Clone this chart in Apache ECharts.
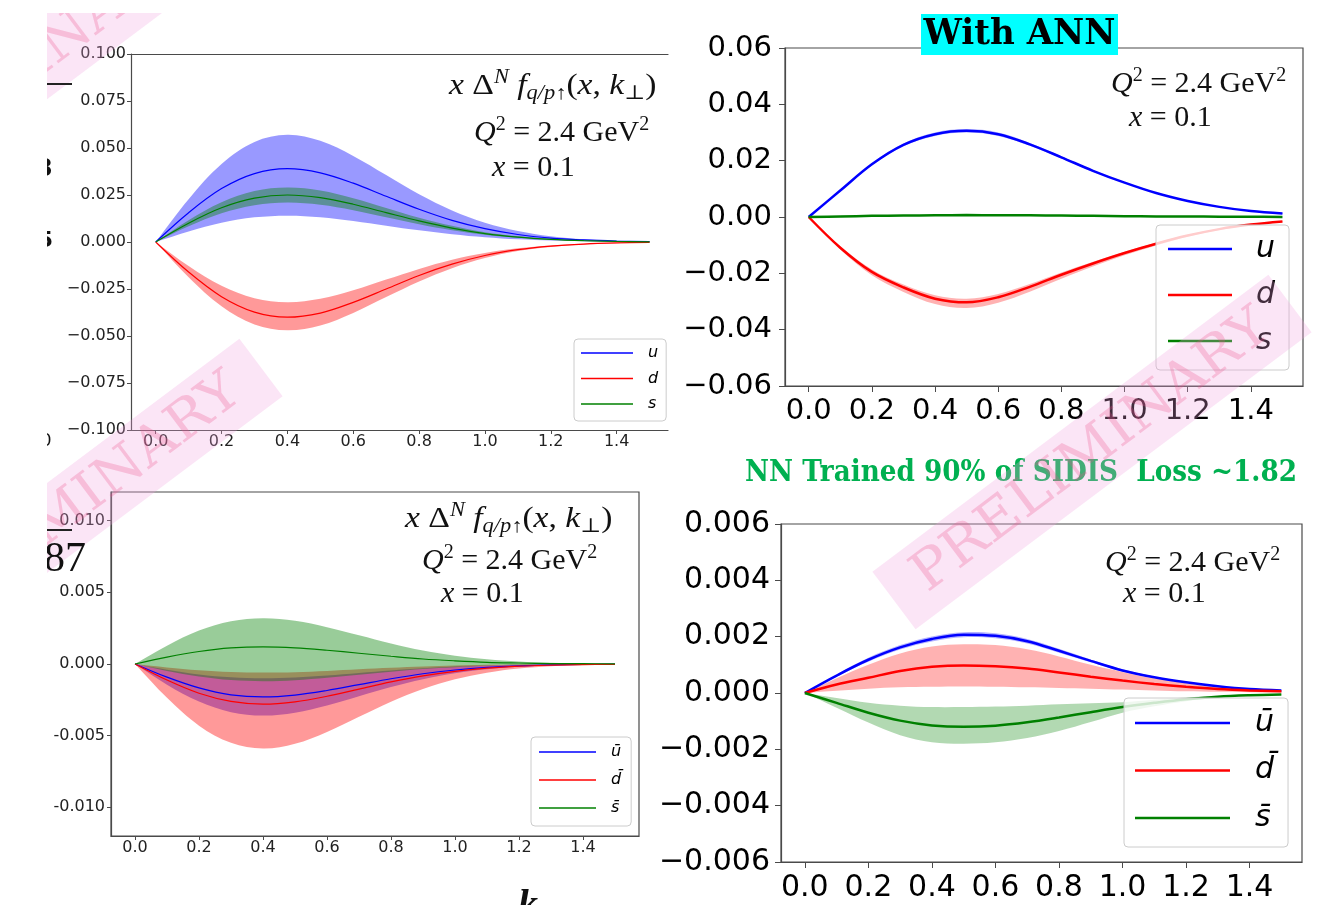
<!DOCTYPE html>
<html>
<head>
<meta charset="utf-8">
<script src="https://cdn.jsdelivr.net/npm/echarts@6/dist/echarts.min.js"></script>
<style>
  html, body { margin: 0; padding: 0; background: #ffffff; }
  #chart { width: 1338px; height: 905px; }
</style>
</head>
<body>
<div id="chart"></div>
<script>
// Transverse momentum k⊥ grid (GeV)
const K = [0, 0.1, 0.2, 0.3, 0.4, 0.5, 0.6, 0.7, 0.8, 0.9, 1.0, 1.1, 1.2, 1.3, 1.4, 1.5];

// Panel A: quark Sivers functions, reference fit
const A_U    = [0, 0.0156, 0.0284, 0.0364, 0.0390, 0.0368, 0.0313, 0.0243, 0.0174, 0.0115, 0.0071, 0.0040, 0.0021, 0.0011, 0.0005, 0.0002];
const A_U_HI = [0, 0.0228, 0.0415, 0.0532, 0.0570, 0.0538, 0.0458, 0.0356, 0.0254, 0.0168, 0.0103, 0.0059, 0.0031, 0.0015, 0.0007, 0.0003];
const A_U_LO = [0, 0.0056, 0.0102, 0.0131, 0.0140, 0.0132, 0.0112, 0.0087, 0.0062, 0.0041, 0.0025, 0.0014, 0.0008, 0.0004, 0.0002, 0.0001];
const A_D    = [0, -0.0160, -0.0291, -0.0373, -0.0400, -0.0378, -0.0321, -0.0250, -0.0178, -0.0118, -0.0072, -0.0041, -0.0022, -0.0011, -0.0005, -0.0002];
const A_D_HI = [0, -0.0128, -0.0233, -0.0299, -0.0320, -0.0302, -0.0257, -0.0200, -0.0143, -0.0094, -0.0058, -0.0033, -0.0018, -0.0009, -0.0004, -0.0002];
const A_D_LO = [0, -0.0188, -0.0342, -0.0439, -0.0470, -0.0444, -0.0377, -0.0293, -0.0210, -0.0139, -0.0085, -0.0048, -0.0026, -0.0013, -0.0006, -0.0003];
const A_S    = [0, 0.0100, 0.0182, 0.0233, 0.0250, 0.0236, 0.0201, 0.0156, 0.0112, 0.0074, 0.0045, 0.0026, 0.0014, 0.0007, 0.0003, 0.0001];
const A_S_HI = [0, 0.0116, 0.0211, 0.0271, 0.0290, 0.0274, 0.0233, 0.0181, 0.0129, 0.0086, 0.0052, 0.0030, 0.0016, 0.0008, 0.0004, 0.0002];
const A_S_LO = [0, 0.0084, 0.0153, 0.0196, 0.0210, 0.0198, 0.0169, 0.0131, 0.0094, 0.0062, 0.0038, 0.0022, 0.0012, 0.0006, 0.0003, 0.0001];

// Panel B: quark Sivers functions with ANN
const B_U    = [0, 0.0094, 0.0187, 0.0256, 0.0294, 0.0306, 0.0294, 0.0258, 0.0212, 0.0164, 0.0122, 0.0085, 0.0057, 0.0036, 0.0021, 0.0012];
const B_U_HI = [0, 0.0097, 0.0191, 0.0261, 0.0300, 0.0312, 0.0300, 0.0263, 0.0216, 0.0167, 0.0124, 0.0087, 0.0058, 0.0037, 0.0022, 0.0013];
const B_U_LO = [0, 0.0091, 0.0183, 0.0251, 0.0288, 0.0300, 0.0288, 0.0253, 0.0208, 0.0161, 0.0120, 0.0083, 0.0056, 0.0035, 0.0020, 0.0011];
const B_D    = [0, -0.0109, -0.0195, -0.0250, -0.0290, -0.0303, -0.0285, -0.0248, -0.0205, -0.0165, -0.0128, -0.0095, -0.0066, -0.0043, -0.0027, -0.0016];
const B_D_HI = [0, -0.0104, -0.0186, -0.0240, -0.0278, -0.0290, -0.0273, -0.0238, -0.0197, -0.0159, -0.0123, -0.0091, -0.0063, -0.0041, -0.0026, -0.0015];
const B_D_LO = [0, -0.0115, -0.0207, -0.0266, -0.0309, -0.0323, -0.0304, -0.0265, -0.0219, -0.0176, -0.0136, -0.0101, -0.0070, -0.0046, -0.0029, -0.0017];
const B_S    = [0, 0.0002, 0.0004, 0.0005, 0.0006, 0.0007, 0.0006, 0.0006, 0.0005, 0.0004, 0.0003, 0.0002, 0.0002, 0.0001, 0.0001, 0.0000];
const B_S_HI = [0, 0.0003, 0.0005, 0.0006, 0.0007, 0.0008, 0.0007, 0.0007, 0.0006, 0.0005, 0.0004, 0.0003, 0.0002, 0.0001, 0.0001, 0.0000];
const B_S_LO = [0, 0.0001, 0.0003, 0.0004, 0.0005, 0.0006, 0.0005, 0.0005, 0.0004, 0.0003, 0.0002, 0.0001, 0.0001, 0.0001, 0.0000, 0.0000];

// Panel C: antiquark Sivers functions, reference fit
const C_U    = [0, -0.00092, -0.00167, -0.00215, -0.00230, -0.00217, -0.00185, -0.00144, -0.00103, -0.00068, -0.00042, -0.00024, -0.00013, -0.00006, -0.00003, -0.00001];
const C_U_HI = [0, -0.00040, -0.00073, -0.00093, -0.00100, -0.00094, -0.00080, -0.00062, -0.00045, -0.00030, -0.00018, -0.00010, -0.00006, -0.00003, -0.00001, 0];
const C_U_LO = [0, -0.00144, -0.00262, -0.00336, -0.00360, -0.00340, -0.00289, -0.00225, -0.00161, -0.00106, -0.00065, -0.00037, -0.00020, -0.00010, -0.00005, -0.00002];
const C_D    = [0, -0.00112, -0.00204, -0.00261, -0.00280, -0.00264, -0.00225, -0.00175, -0.00125, -0.00083, -0.00051, -0.00029, -0.00015, -0.00008, -0.00004, -0.00002];
const C_D_HI = [0, -0.00024, -0.00044, -0.00056, -0.00060, -0.00057, -0.00048, -0.00037, -0.00027, -0.00018, -0.00011, -0.00006, -0.00003, -0.00002, -0.00001, 0];
const C_D_LO = [0, -0.00236, -0.00430, -0.00550, -0.00590, -0.00557, -0.00474, -0.00368, -0.00263, -0.00174, -0.00107, -0.00061, -0.00032, -0.00016, -0.00007, -0.00003];
const C_S    = [0, 0.00048, 0.00087, 0.00112, 0.00120, 0.00113, 0.00096, 0.00075, 0.00054, 0.00035, 0.00022, 0.00012, 0.00007, 0.00003, 0.00002, 0.00001];
const C_S_HI = [0, 0.00128, 0.00233, 0.00299, 0.00320, 0.00302, 0.00257, 0.00200, 0.00143, 0.00094, 0.00058, 0.00033, 0.00018, 0.00009, 0.00004, 0.00002];
const C_S_LO = [0, -0.00048, -0.00087, -0.00112, -0.00120, -0.00113, -0.00096, -0.00075, -0.00054, -0.00035, -0.00022, -0.00012, -0.00007, -0.00003, -0.00002, -0.00001];

// Panel D: antiquark Sivers functions with ANN
const D_U    = [0, 0.00062, 0.00118, 0.00162, 0.00192, 0.00207, 0.00203, 0.00184, 0.00150, 0.00114, 0.00080, 0.00056, 0.00038, 0.00024, 0.00014, 0.00009];
const D_U_HI = [0, 0.00066, 0.00125, 0.00170, 0.00201, 0.00216, 0.00212, 0.00192, 0.00157, 0.00119, 0.00084, 0.00059, 0.00040, 0.00025, 0.00015, 0.00009];
const D_U_LO = [0, 0.00058, 0.00111, 0.00154, 0.00183, 0.00198, 0.00194, 0.00176, 0.00143, 0.00109, 0.00076, 0.00053, 0.00036, 0.00023, 0.00013, 0.00008];
const D_D    = [0, 0.00030, 0.00054, 0.00078, 0.00093, 0.00098, 0.00095, 0.00087, 0.00073, 0.00058, 0.00044, 0.00032, 0.00022, 0.00014, 0.00009, 0.00006];
const D_D_HI = [0, 0.00052, 0.00100, 0.00140, 0.00165, 0.00173, 0.00170, 0.00155, 0.00130, 0.00100, 0.00075, 0.00052, 0.00035, 0.00022, 0.00013, 0.00008];
const D_D_LO = [0, 0.00008, 0.00015, 0.00020, 0.00022, 0.00023, 0.00022, 0.00020, 0.00018, 0.00015, 0.00012, 0.00009, 0.00006, 0.00004, 0.00003, 0.00002];
const D_S    = [0, -0.00035, -0.00070, -0.00098, -0.00115, -0.00120, -0.00116, -0.00104, -0.00087, -0.00068, -0.00050, -0.00035, -0.00022, -0.00013, -0.00008, -0.00005];
const D_S_HI = [0, -0.00018, -0.00035, -0.00045, -0.00050, -0.00050, -0.00048, -0.00045, -0.00040, -0.00036, -0.00033, -0.00024, -0.00016, -0.00010, -0.00006, -0.00004];
const D_S_LO = [0, -0.00052, -0.00105, -0.00150, -0.00175, -0.00180, -0.00175, -0.00160, -0.00135, -0.00103, -0.00070, -0.00047, -0.00029, -0.00017, -0.00010, -0.00006];

// Tick positions
const X_TICKS   = [0, 0.2, 0.4, 0.6, 0.8, 1.0, 1.2, 1.4];
const A_Y_TICKS = [-0.1, -0.075, -0.05, -0.025, 0, 0.025, 0.05, 0.075, 0.1];
const B_Y_TICKS = [-0.06, -0.04, -0.02, 0, 0.02, 0.04, 0.06];
const C_Y_TICKS = [-0.01, -0.005, 0, 0.005, 0.01];
const D_Y_TICKS = [-0.006, -0.004, -0.002, 0, 0.002, 0.004, 0.006];

// Legend texts
const LEGEND_TEXT = {
  'A-u': 'u', 'A-d': 'd', 'A-s': 's',
  'B-u': 'u', 'B-d': 'd', 'B-s': 's',
  'C-u': 'ū', 'C-d': 'd\u0304', 'C-s': 's\u0304',
  'D-u': 'ū', 'D-d': 'd\u0304', 'D-s': 's\u0304'
};

const BLUE = '#0000ff', RED = '#ff0000', GREEN = '#008000';
const SPINE = '#4a4a4a';
const SANS = '"DejaVu Sans", sans-serif';
const SERIF = '"Liberation Serif", "DejaVu Serif", serif';
const SLAB = '"DejaVu Serif", serif';

const PANELS = [
  {
    grid: { left: 131, top: 54, width: 537, height: 376 }, box: false,
    xMin: -0.075, xMax: 1.556, yMin: -0.1, yMax: 0.1, yTicks: A_Y_TICKS, digits: 3, minus: '\u2212',
    font: 16, labelColor: '#222', tickLen: 4, xMargin: 4, yMargin: 5, lineWidth: 1.2, alpha: 0.4,
    curves: [['A-u', BLUE, A_U, A_U_LO, A_U_HI], ['A-d', RED, A_D, A_D_LO, A_D_HI], ['A-s', GREEN, A_S, A_S_LO, A_S_HI]],
    legend: { left: 574, top: 339, padding: [4, 8, 7, 7], itemWidth: 52, iconH: 1.5, gap: 5.5, lineHeight: 20, textPad: 10, font: 16 }
  },
  {
    grid: { left: 785, top: 48, width: 518, height: 338 }, box: true,
    xMin: -0.075, xMax: 1.565, yMin: -0.06, yMax: 0.06, yTicks: B_Y_TICKS, digits: 2, minus: '\u2212',
    font: 29, labelColor: '#000', tickLen: 6, xMargin: 11, yMargin: 13, lineWidth: 2.5, alpha: 0.3,
    curves: [['B-u', BLUE, B_U, B_U_LO, B_U_HI], ['B-d', RED, B_D, B_D_LO, B_D_HI], ['B-s', GREEN, B_S, B_S_LO, B_S_HI]],
    legend: { left: 1156, top: 225, padding: [6, 14, 11, 12], itemWidth: 64, iconH: 2.5, gap: 10, lineHeight: 36, textPad: 19, font: 30 }
  },
  {
    grid: { left: 111, top: 492, width: 528, height: 344 }, box: true,
    xMin: -0.075, xMax: 1.575, yMin: -0.012, yMax: 0.012, yTicks: C_Y_TICKS, digits: 3, minus: '-',
    font: 16, labelColor: '#222', tickLen: 4, xMargin: 4, yMargin: 6, lineWidth: 1.2, alpha: 0.4,
    curves: [['C-u', BLUE, C_U, C_U_LO, C_U_HI], ['C-d', RED, C_D, C_D_LO, C_D_HI], ['C-s', GREEN, C_S, C_S_LO, C_S_HI]],
    legend: { left: 531, top: 737, padding: [5, 10, 8, 8], itemWidth: 57, iconH: 1.5, gap: 8, lineHeight: 20, textPad: 10, font: 16 }
  },
  {
    grid: { left: 781, top: 524, width: 521, height: 338 }, box: true,
    xMin: -0.075, xMax: 1.565, yMin: -0.006, yMax: 0.006, yTicks: D_Y_TICKS, digits: 3, minus: '\u2212',
    font: 30, labelColor: '#000', tickLen: 6, xMargin: 11, yMargin: 11, lineWidth: 2.5, alpha: 0.3,
    curves: [['D-u', BLUE, D_U, D_U_LO, D_U_HI], ['D-d', RED, D_D, D_D_LO, D_D_HI], ['D-s', GREEN, D_S, D_S_LO, D_S_HI]],
    legend: { left: 1124, top: 698, padding: [6, 14, 10, 11], itemWidth: 95, iconH: 2.5, gap: 9.5, lineHeight: 38, textPad: 20, font: 30 }
  }
];

// Filled band between the lower and upper bounds, drawn once as one smooth polygon
function bandRenderer(color, alpha) {
  return function (params, api) {
    if (params.dataIndexInside !== 0) return null;
    const n = params.dataInsideLength;
    const upper = [], lower = [];
    for (let i = 0; i < n; i++) {
      upper.push(api.coord([api.value(0, i), api.value(2, i)]));
      lower.push(api.coord([api.value(0, i), api.value(1, i)]));
    }
    return {
      type: 'polygon',
      shape: { points: upper.concat(lower.reverse()), smooth: 0.35 },
      style: { fill: color, opacity: alpha }
    };
  };
}

const option = {
  animation: false,
  backgroundColor: '#ffffff',
  grid: [], xAxis: [], yAxis: [], series: [], legend: [], graphic: []
};

PANELS.forEach((p, gi) => {
  option.grid.push(Object.assign({
    show: p.box, borderColor: SPINE, borderWidth: 1.2, backgroundColor: 'transparent'
  }, p.grid));

  const xi = option.xAxis.length;
  option.xAxis.push({
    type: 'value', gridIndex: gi, min: p.xMin, max: p.xMax, position: 'bottom',
    axisLine: { show: true, onZero: false, lineStyle: { color: SPINE, width: 1.2 } },
    axisTick: { show: true, inside: false, length: p.tickLen, customValues: X_TICKS, lineStyle: { color: SPINE, width: 1 } },
    axisLabel: { customValues: X_TICKS, formatter: v => v.toFixed(1), fontFamily: SANS, fontSize: p.font, color: p.labelColor, margin: p.xMargin },
    splitLine: { show: false }
  });
  if (!p.box) {
    // top spine only (the frame is open on the right)
    option.xAxis.push({
      type: 'value', gridIndex: gi, min: p.xMin, max: p.xMax, position: 'top',
      axisLine: { show: true, onZero: false, lineStyle: { color: SPINE, width: 1.2 } },
      axisTick: { show: false }, axisLabel: { show: false }, splitLine: { show: false }
    });
  }
  const yi = option.yAxis.length;
  option.yAxis.push({
    type: 'value', gridIndex: gi, min: p.yMin, max: p.yMax,
    axisLine: { show: true, onZero: false, lineStyle: { color: SPINE, width: 1.2 } },
    axisTick: { show: true, inside: false, length: p.tickLen, customValues: p.yTicks, lineStyle: { color: SPINE, width: 1 } },
    axisLabel: {
      customValues: p.yTicks,
      formatter: v => (v < -1e-12 ? p.minus : '') + Math.abs(v).toFixed(p.digits),
      fontFamily: SANS, fontSize: p.font, color: p.labelColor, margin: p.yMargin
    },
    splitLine: { show: false }
  });

  // uncertainty bands
  p.curves.forEach(([key, color, mid, lo, hi]) => {
    option.series.push({
      type: 'custom', name: key + ' band', coordinateSystem: 'cartesian2d',
      xAxisIndex: xi, yAxisIndex: yi, clip: true, silent: true, z: 2,
      data: K.map((k, i) => [k, lo[i], hi[i]]),
      encode: { x: 0, y: [1, 2] },
      renderItem: bandRenderer(color, p.alpha)
    });
  });
  // central curves
  p.curves.forEach(([key, color, mid]) => {
    option.series.push({
      type: 'line', name: key, xAxisIndex: xi, yAxisIndex: yi,
      data: K.map((k, i) => [k, mid[i]]),
      smooth: 0.35, symbol: 'none', silent: true,
      lineStyle: { color: color, width: p.lineWidth }, itemStyle: { color: color }, z: 3
    });
  });

  const L = p.legend;
  option.legend.push({
    orient: 'vertical', left: L.left, top: L.top, padding: L.padding,
    data: p.curves.map(c => c[0]), selectedMode: false,
    icon: 'rect', itemWidth: L.itemWidth, itemHeight: L.iconH, itemGap: L.gap,
    formatter: name => LEGEND_TEXT[name],
    textStyle: { fontFamily: SANS, fontStyle: 'italic', fontSize: L.font, color: '#000', lineHeight: L.lineHeight, padding: [0, 0, 0, L.textPad] },
    backgroundColor: 'rgba(255,255,255,0.8)', borderColor: '#cccccc', borderWidth: 1, borderRadius: 4
  });
});

// ---- text helpers ----
const measureCtx = document.createElement('canvas').getContext('2d');
function fitScale(text, font, target) {
  measureCtx.font = font;
  return target / measureCtx.measureText(text).width;
}

const MS = 30;      // math font size
const MLH = 36;     // math line height
const MATH_RICH = {
  r:   { fontFamily: SERIF, fontSize: MS, lineHeight: MLH, fill: '#111', verticalAlign: 'middle' },
  i:   { fontFamily: SERIF, fontSize: MS, fontStyle: 'italic', lineHeight: MLH, fill: '#111', verticalAlign: 'middle' },
  sup: { fontFamily: SERIF, fontSize: 20, lineHeight: 22, fill: '#111', verticalAlign: 'top' },
  supi:{ fontFamily: SERIF, fontSize: 20, fontStyle: 'italic', lineHeight: 22, fill: '#111', verticalAlign: 'top' },
  sub: { fontFamily: SERIF, fontSize: 20, lineHeight: 18, fill: '#111', verticalAlign: 'bottom' },
  subi:{ fontFamily: SERIF, fontSize: 20, fontStyle: 'italic', lineHeight: 18, fill: '#111', verticalAlign: 'bottom' }
};
function mathText(left, baseline, text, sx) {
  return {
    type: 'text', x: left, y: baseline - (MLH / 2 + 0.3 * MS), z: 20, silent: true, scaleX: sx || 1,
    style: { text, rich: MATH_RICH, x: 0, y: 0, align: 'left', verticalAlign: 'top', textAlign: 'left', textVerticalAlign: 'top' }
  };
}
const FORMULA = '{i|x}{r| Δ}{supi|N}{i| f}{subi|q/p↑}{r|(}{i|x}{r|, }{i|k}{sub|⊥}{r|)}';
const QLINE = '{i|Q}{sup|2}{r| = 2.4 GeV}{sup|2}';
const XLINE = '{i|x}{r| = 0.1}';
const FORMULA_SX = 1.12;

function plain(x, baseline, text, font, size, fill, align, z) {
  return {
    type: 'text', x: x, y: baseline - 0.3 * size, z: z || 140, silent: true,
    style: { text, font, fill, x: 0, y: 0, align: align || 'left', verticalAlign: 'middle', textAlign: align || 'left', textVerticalAlign: 'middle' }
  };
}

function watermark(cx, cy, len, fontSize) {
  const font = fontSize + 'px ' + SLAB;
  const s = fitScale('PRELIMINARY', font, len - 62);
  return {
    type: 'group', x: cx, y: cy, rotation: 0.6435, z: 100, silent: true,
    children: [
      { type: 'rect', z: 100, shape: { x: -len / 2, y: -36, width: len, height: 72 }, style: { fill: 'rgba(242,160,222,0.28)' } },
      { type: 'text', z: 101, scaleX: s, style: { text: 'PRELIMINARY', font, fill: 'rgba(235,80,140,0.27)', x: 0, y: 0, align: 'center', verticalAlign: 'middle', textAlign: 'center', textVerticalAlign: 'middle' } }
    ]
  };
}

const titleFont = 'bold 36px ' + SLAB;
const greenFont = 'bold 29px ' + SLAB;
const greenText = 'NN Trained 90% of SIDIS  Loss ~1.82';

const title = plain(1019.5, 45, 'With ANN', titleFont, 36, '#000', 'center', 51);
title.scaleX = fitScale('With ANN', titleFont, 192);
const green = plain(745, 482, greenText, greenFont, 29, '#00b050', 'left', 51);
green.scaleX = fitScale(greenText, greenFont, 552);

option.graphic = [
  // panel annotations
  mathText(449, 95, FORMULA, FORMULA_SX), mathText(474, 142, QLINE), mathText(492, 177, XLINE),
  mathText(1111, 93, QLINE), mathText(1129, 127, XLINE),
  mathText(405, 528, FORMULA, FORMULA_SX), mathText(422, 570, QLINE), mathText(441, 603, XLINE),
  mathText(1105, 572, QLINE), mathText(1123, 603, XLINE),

  // headlines
  { type: 'rect', z: 50, silent: true, shape: { x: 921, y: 14, width: 197, height: 41 }, style: { fill: '#00ffff' } },
  title, green,

  // watermarks
  watermark(1092, 452, 495, 54),
  watermark(63, 516, 495, 54),
  watermark(10, 82, 495, 54),

  // neighbouring slide content, cut by the page margin
  { type: 'line', z: 140, silent: true, shape: { x1: 47, y1: 84, x2: 72, y2: 84 }, style: { stroke: '#222', lineWidth: 2 } },
  { type: 'line', z: 140, silent: true, shape: { x1: 47, y1: 530, x2: 72, y2: 530 }, style: { stroke: '#222', lineWidth: 2 } },
  plain(44, 573, '87', '42px ' + SERIF, 42, '#111', 'left'),
  plain(53, 177, '3', 'bold 24px ' + SANS, 24, '#111', 'right'),
  plain(53, 248, '5', 'bold 22px ' + SANS, 22, '#111', 'right'),
  plain(51.5, 447, '0', '17px ' + SANS, 17, '#111', 'right'),
  plain(518, 919, 'k', 'bold italic 40px ' + SERIF, 40, '#111', 'left'),

  // page margins
  { type: 'rect', z: 150, silent: true, shape: { x: 0, y: 0, width: 47, height: 905 }, style: { fill: '#ffffff' } },
  { type: 'rect', z: 150, silent: true, shape: { x: 0, y: 0, width: 330, height: 13 }, style: { fill: '#ffffff' } }
];

const chart = echarts.init(document.getElementById('chart'), null, { renderer: 'canvas' });
chart.setOption(option);
</script>
</body>
</html>
